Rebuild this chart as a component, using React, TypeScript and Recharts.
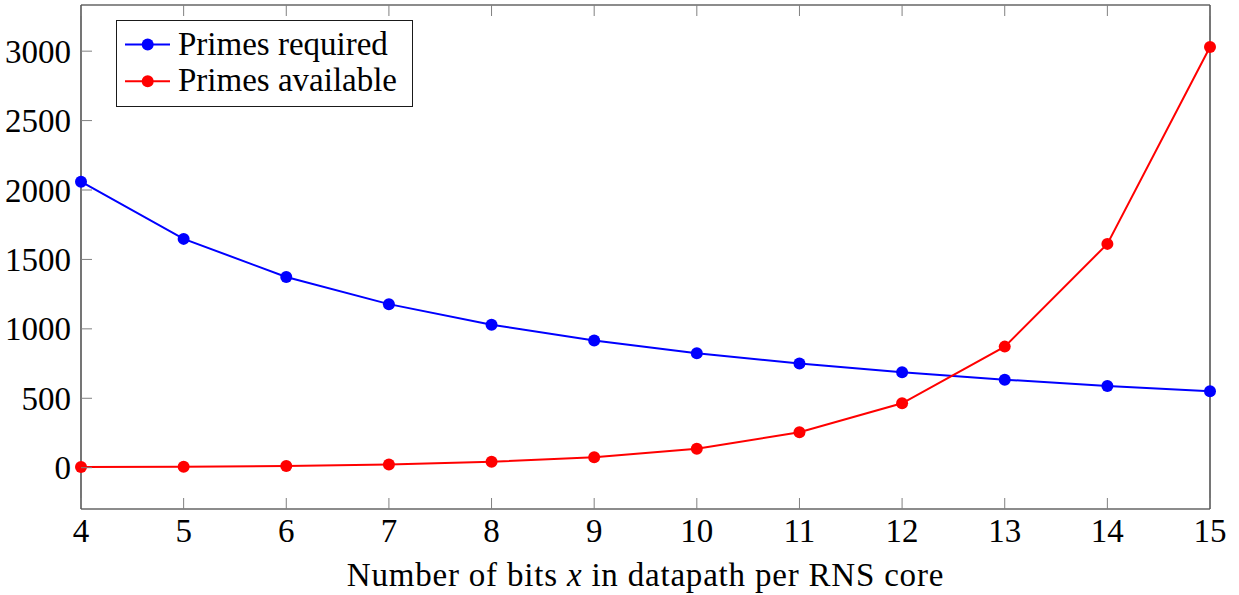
import React from "react";
import { LineChart, Line, XAxis, YAxis, Legend } from "recharts";

// bits per RNS core
const bits = [4, 5, 6, 7, 8, 9, 10, 11, 12, 13, 14, 15];
const primesRequired = [2060, 1648, 1374, 1178, 1030, 916, 824, 750, 687, 634, 589, 550];
const primesAvailable = [5, 7, 13, 23, 43, 75, 137, 255, 464, 872, 1612, 3030];

const xTicks = [4, 5, 6, 7, 8, 9, 10, 11, 12, 13, 14, 15];
const yTicks = [0, 500, 1000, 1500, 2000, 2500, 3000];

const seriesNames = ["Primes required", "Primes available"];
const seriesColors = ["#0000ff", "#ff0000"];

const FONT = "Liberation Serif";
const TICK_COLOR = "#808080";
const FRAME_COLOR = "#1a1a1a";
const Y_DOMAIN: [number, number] = [-297.5, 3332.5];

const data = bits.map((b, i) => ({
    bits: b,
    required: primesRequired[i],
    available: primesAvailable[i],
}));

function BottomTick({ x, y, payload }: any) {
    return (
        <g>
            <line x1={x} x2={x} y1={y} y2={y - 11} stroke={TICK_COLOR} strokeWidth={1} />
            <text x={x} y={y + 33.4} textAnchor="middle" fontSize={33} fontFamily={FONT} fill="#000">
                {payload.value}
            </text>
        </g>
    );
}

function TopTick({ x, y }: any) {
    return <line x1={x} x2={x} y1={y} y2={y + 11} stroke={TICK_COLOR} strokeWidth={1} />;
}

function LeftTick({ x, y, payload }: any) {
    return (
        <g>
            <line x1={x} x2={x + 11} y1={y} y2={y} stroke={TICK_COLOR} strokeWidth={1} />
            <text x={x - 10} y={y + 11.5} textAnchor="end" fontSize={33} fontFamily={FONT} fill="#000">
                {payload.value}
            </text>
        </g>
    );
}

function RightTick({ x, y }: any) {
    return <line x1={x} x2={x - 11} y1={y} y2={y} stroke={TICK_COLOR} strokeWidth={1} />;
}

function XLabel({ viewBox }: any) {
    const cx = viewBox.x + viewBox.width / 2;
    return (
        <text x={cx} y={586} textAnchor="middle" fontSize={33} fontFamily={FONT} letterSpacing={0.8} fill="#000">
            Number of bits <tspan fontStyle="italic">x</tspan> in datapath per RNS core
        </text>
    );
}

function LegendBox() {
    return (
        <div
            style={{
                width: 297,
                height: 87,
                boxSizing: "border-box",
                border: `1.3px solid ${FRAME_COLOR}`,
                background: "#fff",
            }}
        >
            <svg width={295} height={85} style={{ display: "block" }}>
                {seriesNames.map((name, i) => {
                    const cy = 23.5 + i * 36.7;
                    return (
                        <g key={name}>
                            <line x1={8} x2={53} y1={cy} y2={cy} stroke={seriesColors[i]} strokeWidth={2} />
                            <circle cx={30.7} cy={cy} r={6} fill={seriesColors[i]} />
                            <text x={61} y={cy + 10} fontSize={33} fontFamily={FONT} fill="#000">
                                {name}
                            </text>
                        </g>
                    );
                })}
            </svg>
        </div>
    );
}

export default function App() {
    return (
        <div style={{ position: "absolute", left: 0, top: 0, background: "#fff" }}>
            <LineChart
                width={1239}
                height={595}
                data={data}
                margin={{ top: 4, right: 28, left: 0, bottom: 0 }}
            >
                <XAxis
                    dataKey="bits"
                    type="number"
                    domain={[4, 15]}
                    ticks={xTicks}
                    interval={0}
                    height={86}
                    tickSize={0}
                    tickMargin={0}
                    tickLine={false}
                    axisLine={{ stroke: FRAME_COLOR, strokeWidth: 1.2 }}
                    tick={<BottomTick />}
                    label={{ content: <XLabel /> }}
                />
                <XAxis
                    xAxisId="top"
                    orientation="top"
                    dataKey="bits"
                    type="number"
                    domain={[4, 15]}
                    ticks={xTicks}
                    interval={0}
                    height={1}
                    tickSize={0}
                    tickMargin={0}
                    tickLine={false}
                    axisLine={{ stroke: FRAME_COLOR, strokeWidth: 1.2 }}
                    tick={<TopTick />}
                />
                <YAxis
                    type="number"
                    domain={Y_DOMAIN}
                    ticks={yTicks}
                    interval={0}
                    width={81}
                    tickSize={0}
                    tickMargin={0}
                    tickLine={false}
                    axisLine={{ stroke: FRAME_COLOR, strokeWidth: 1.2 }}
                    tick={<LeftTick />}
                />
                <YAxis
                    yAxisId="right"
                    orientation="right"
                    type="number"
                    domain={Y_DOMAIN}
                    ticks={yTicks}
                    interval={0}
                    width={1}
                    tickSize={0}
                    tickMargin={0}
                    tickLine={false}
                    axisLine={{ stroke: FRAME_COLOR, strokeWidth: 1.2 }}
                    tick={<RightTick />}
                />
                <Legend
                    layout="vertical"
                    align="center"
                    verticalAlign="middle"
                    content={<LegendBox />}
                    wrapperStyle={{ left: 116, top: 20, width: 297, height: 87 }}
                />
                <Line
                    dataKey="required"
                    name={seriesNames[0]}
                    stroke={seriesColors[0]}
                    strokeWidth={2}
                    dot={{ r: 6, fill: seriesColors[0], stroke: "none", clipDot: false }}
                    activeDot={false}
                    isAnimationActive={false}
                />
                <Line
                    dataKey="available"
                    name={seriesNames[1]}
                    stroke={seriesColors[1]}
                    strokeWidth={2}
                    dot={{ r: 6, fill: seriesColors[1], stroke: "none", clipDot: false }}
                    activeDot={false}
                    isAnimationActive={false}
                />
            </LineChart>
        </div>
    );
}
